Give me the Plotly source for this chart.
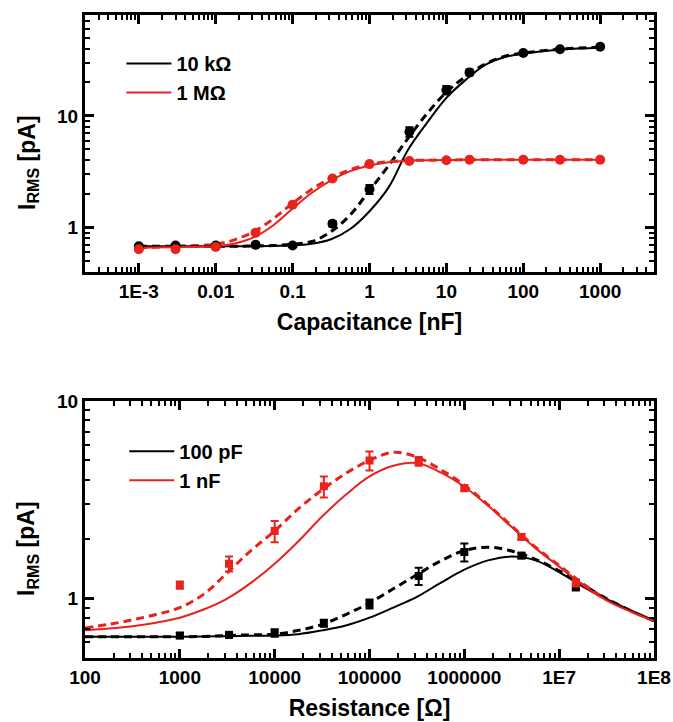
import plotly.graph_objects as go

# ---------------- data: top panel (capacitance sweep, nF) ----------------
cap_pts = [1e-3, 3e-3, 0.01, 0.033, 0.1, 0.33, 1, 3.3, 10, 20, 100, 300, 1000]
i_10k_pts = [0.68, 0.69, 0.69, 0.70, 0.69, 1.08, 2.2, 7.2, 17, 24.5, 36.5, 39.5, 41.5]
i_10k_err = [0.02, 0.02, 0.02, 0.02, 0.02, 0.06, 0.2, 0.7, 1.5, 1.5, 1.0, 1.0, 1.0]
i_1M_pts = [0.64, 0.64, 0.67, 0.90, 1.6, 2.75, 3.7, 3.95, 4.0, 4.05, 4.05, 4.05, 4.05]
i_1M_err = [0.02, 0.02, 0.02, 0.03, 0.05, 0.1, 0.1, 0.1, 0.1, 0.1, 0.1, 0.1, 0.1]

cap_fit = [1e-3, 3.16e-3, 0.01, 0.0178, 0.0316, 0.0562, 0.1, 0.178, 0.316, 0.562,
           1, 1.78, 3.16, 5.62, 10, 17.8, 31.6, 56.2, 100, 316, 1000]
i_10k_solid = [0.68, 0.68, 0.68, 0.68, 0.68, 0.685, 0.69, 0.715, 0.785, 0.97,
               1.40, 2.3, 4.95, 8.7, 14.5, 21, 28.5, 33.5, 36, 39.3, 40.8]
i_10k_dash = [0.68, 0.68, 0.68, 0.68, 0.685, 0.69, 0.71, 0.75, 0.92, 1.3,
              2.15, 3.6, 6.3, 10.5, 16.3, 22.5, 29, 34, 36.5, 39.6, 41.2]
i_1M_solid = [0.66, 0.67, 0.68, 0.72, 0.82, 1.05, 1.48, 2.05, 2.65, 3.2,
              3.6, 3.85, 3.97, 4.0, 4.02, 4.04, 4.05, 4.05, 4.05, 4.05, 4.05]
i_1M_dash = [0.66, 0.68, 0.71, 0.78, 0.92, 1.2, 1.65, 2.2, 2.78, 3.3,
             3.68, 3.9, 3.98, 4.01, 4.03, 4.04, 4.05, 4.05, 4.05, 4.05, 4.05]

# ---------------- data: bottom panel (resistance sweep, Ohm) ----------------
res_pts = [1e3, 3.3e3, 1e4, 3.3e4, 1e5, 3.3e5, 1e6, 4e6, 1.5e7]
i_100p_pts = [0.65, 0.655, 0.67, 0.75, 0.94, 1.3, 1.72, 1.65, 1.14]
i_100p_err = [0.02, 0.02, 0.03, 0.03, 0.05, 0.13, 0.18, 0.05, 0.04]
i_1n_pts = [1.17, 1.5, 2.2, 3.7, 5.0, 4.95, 3.62, 2.05, 1.2]
i_1n_err = [0.05, 0.13, 0.27, 0.45, 0.55, 0.25, 0.12, 0.06, 0.05]

res_fit = [100, 178, 316, 562, 1e3, 1.78e3, 3.16e3, 5.62e3, 1e4, 1.78e4, 3.16e4, 5.62e4,
           1e5, 1.78e5, 3.16e5, 5.62e5, 1e6, 1.78e6, 3.16e6, 5.62e6, 1e7, 1.78e7, 3.16e7,
           5.62e7, 1e8]
i_1n_solid = [0.69, 0.705, 0.725, 0.755, 0.80, 0.88, 1.0, 1.2, 1.5, 1.95, 2.6, 3.35,
              4.15, 4.7, 4.85, 4.35, 3.68, 2.95, 2.3, 1.8, 1.45, 1.17, 0.98, 0.86, 0.77]
i_1n_dash = [0.71, 0.74, 0.78, 0.83, 0.90, 1.05, 1.35, 1.75, 2.2, 2.85, 3.55, 4.3,
             5.0, 5.5, 5.2, 4.5, 3.75, 2.98, 2.33, 1.82, 1.47, 1.19, 0.99, 0.87, 0.77]
i_100p_solid = [0.64, 0.64, 0.64, 0.64, 0.64, 0.642, 0.645, 0.648, 0.65, 0.66, 0.69, 0.73,
                0.80, 0.90, 1.02, 1.2, 1.4, 1.56, 1.63, 1.56, 1.36, 1.15, 0.99, 0.87, 0.77]
i_100p_dash = [0.64, 0.64, 0.64, 0.64, 0.64, 0.643, 0.65, 0.655, 0.66, 0.69, 0.74, 0.83,
               0.95, 1.12, 1.32, 1.55, 1.75, 1.82, 1.74, 1.58, 1.38, 1.17, 1.0, 0.87, 0.77]

# tick label texts (plotly default label -> label shown in the figure)
cap_labels = {"0.001": "1E-3", "1m": "1E-3", "1k": "1000", "1,000": "1000"}
res_labels = {"1k": "1000", "1,000": "1000",
              "10k": "10000", "10,000": "10000",
              "100k": "100000", "100,000": "100000",
              "1M": "1000000", "1,000,000": "1000000",
              "10M": "1E7", "10,000,000": "1E7", "10000000": "1E7",
              "100M": "1E8", "100,000,000": "1E8", "100000000": "1E8"}

BLACK = "#000000"
RED = "#e8221c"
FONT = "Liberation Sans"

fig = go.Figure()


def add_panel(xa, ya, legend, fits, pts, symbol, msize):
    for x, y, color, dash, width, name in fits:
        fig.add_trace(go.Scatter(
            x=x, y=y, mode="lines", xaxis=xa, yaxis=ya,
            line=dict(color=color, width=width, dash=dash, shape="spline", smoothing=1.0),
            name=name if name else None, showlegend=bool(name), legend=legend,
            hoverinfo="skip"))
    for x, y, err, color in pts:
        fig.add_trace(go.Scatter(
            x=x, y=y, mode="markers", xaxis=xa, yaxis=ya, showlegend=False,
            marker=dict(color=color, symbol=symbol, size=msize),
            error_y=dict(type="data", array=err, color=color, thickness=2, width=4)))


add_panel("x", "y", "legend",
          [(cap_fit, i_10k_dash, BLACK, "8px,5px", 3, None),
           (cap_fit, i_1M_dash, RED, "8px,5px", 3, None),
           (cap_fit, i_10k_solid, BLACK, "solid", 2, "10 kΩ"),
           (cap_fit, i_1M_solid, RED, "solid", 2, "1 MΩ")],
          [(cap_pts, i_10k_pts, i_10k_err, BLACK),
           (cap_pts, i_1M_pts, i_1M_err, RED)],
          "circle", 10)

add_panel("x2", "y2", "legend2",
          [(res_fit, i_100p_dash, BLACK, "8px,5px", 3, None),
           (res_fit, i_1n_dash, RED, "8px,5px", 3, None),
           (res_fit, i_100p_solid, BLACK, "solid", 2, "100 pF"),
           (res_fit, i_1n_solid, RED, "solid", 2, "1 nF")],
          [(res_pts, i_100p_pts, i_100p_err, BLACK),
           (res_pts, i_1n_pts, i_1n_err, RED)],
          "square", 8)

axis_common = dict(
    type="log", showline=True, linecolor="#000000", linewidth=3, mirror="ticks",
    ticks="inside", ticklen=9, tickwidth=2.5, tickcolor="#000000",
    showgrid=False, zeroline=False, tickmode="linear", tick0=0, dtick=1,
    exponentformat="none", ticklabeloverflow="allow",
    minor=dict(ticks="inside", ticklen=5, tickwidth=2, tickcolor="#000000",
               dtick="D1", showgrid=False),
    tickfont=dict(family=FONT, size=19, color="black", weight="bold"),
)
title_font = dict(family=FONT, size=23, color="black", weight="bold")
ytitle = "I<sub>RMS</sub> [pA]" + "&nbsp;" * 6
legend_font = dict(family=FONT, size=20, color="black", weight="bold")

fig.update_layout(
    template="none",
    width=673, height=722,
    margin=dict(l=85, r=19, t=15, b=64),
    paper_bgcolor="white", plot_bgcolor="white",
    font=dict(family=FONT, color="black"),
    xaxis=dict(axis_common, domain=[0, 1], anchor="y",
               range=[-3.70, 3.70], labelalias=cap_labels,
               title=dict(text="Capacitance [nF]", standoff=14, font=title_font)),
    yaxis=dict(axis_common, domain=[0.6003, 1], anchor="x",
               range=[-0.398, 1.903],
               title=dict(text=ytitle, standoff=16, font=title_font)),
    xaxis2=dict(axis_common, domain=[0, 1], anchor="y2",
                range=[2, 8], labelalias=res_labels,
                title=dict(text="Resistance [Ω]", standoff=14, font=title_font)),
    yaxis2=dict(axis_common, domain=[0, 0.3997], anchor="x2",
                range=[-0.301, 1.0],
                title=dict(text=ytitle, standoff=16, font=title_font)),
    legend=dict(x=0.064, y=0.955, xanchor="left", yanchor="top",
                bgcolor="rgba(0,0,0,0)", borderwidth=0, itemwidth=45,
                font=legend_font, tracegroupgap=0),
    legend2=dict(x=0.069, y=0.352, xanchor="left", yanchor="top",
                 bgcolor="rgba(0,0,0,0)", borderwidth=0, itemwidth=45,
                 font=legend_font, tracegroupgap=0),
)

fig.write_html("out.html")
